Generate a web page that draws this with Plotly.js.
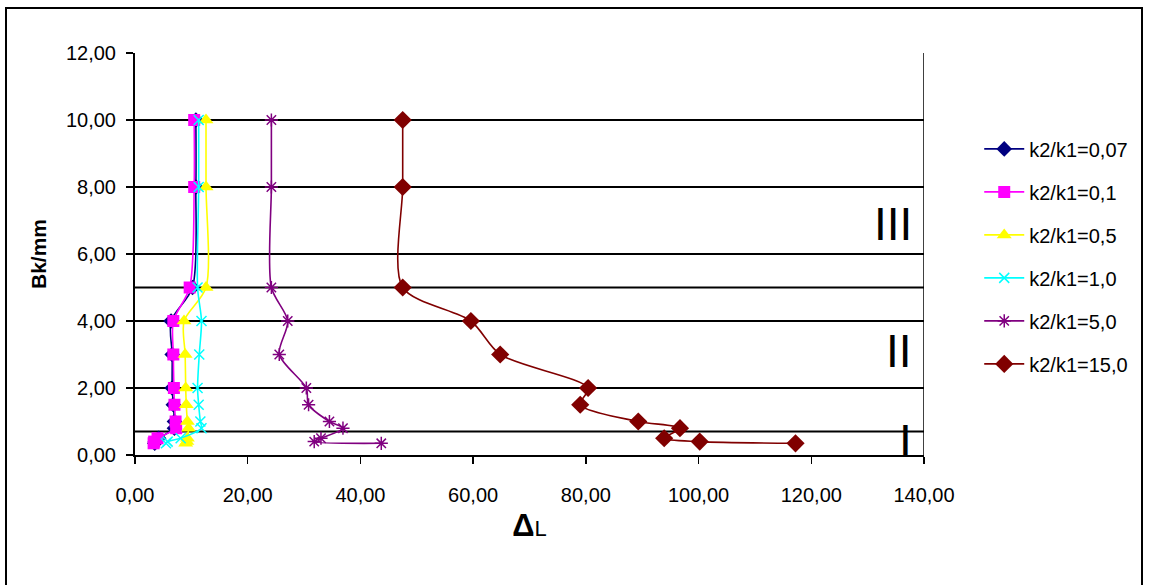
<!DOCTYPE html>
<html>
<head>
<meta charset="utf-8">
<script src="https://cdn.plot.ly/plotly-3.0.1.min.js"></script>
<style>
html,body{margin:0;padding:0;background:#fff;overflow:hidden;}
#frame{position:absolute;left:5px;top:7px;width:1138px;height:600px;border:2px solid #000;box-sizing:border-box;}
#chart{position:absolute;left:0;top:0;width:1150px;height:585px;}
</style>
</head>
<body>
<div id="frame"></div>
<div id="chart"></div>
<script>
// Depth values (Bk/mm) shared by all series
const depth = [10, 8, 5, 4, 3, 2, 1.5, 1.0, 0.8, 0.5, 0.4, 0.35];

// ΔL values per series
const dl_007 = [10.8, 10.8, 10.2, 6.4, 6.6, 6.6, 6.8, 7.0, 7.0, 4.2, 3.6, 3.5];
const dl_01  = [10.5, 10.5, 9.7, 6.8, 6.8, 6.9, 7.0, 7.2, 7.3, 4.0, 3.4, 3.3];
const dl_05  = [12.6, 12.6, 12.6, 8.7, 8.9, 9.0, 9.1, 9.3, 9.5, 9.3, 9.2, 9.0];
const dl_10  = [11.3, 11.3, 11.1, 11.8, 11.4, 11.1, 11.3, 11.6, 11.8, 8.1, 5.8, 5.5];
const dl_50  = [24.2, 24.2, 24.2, 27.1, 25.6, 30.4, 30.8, 34.5, 36.9, 33.0, 31.8, 43.7];
const dl_150 = [47.5, 47.5, 47.5, 59.6, 64.8, 80.4, 79.0, 89.3, 96.7, 93.9, 100.2, 117.2];

const seriesNames = ["k2/k1=0,07", "k2/k1=0,1", "k2/k1=0,5", "k2/k1=1,0", "k2/k1=5,0", "k2/k1=15,0"];
const xTicks = [0, 20, 40, 60, 80, 100, 120, 140];
const yTicks = [0, 2, 4, 6, 8, 10, 12];
const zoneLines = [5, 0.7];
const zoneLabels = ["III", "II", "I"];
const zoneLabelY = [6.9, 3.1, 0.42];

const styles = [
  {color:"#000080", symbol:"diamond", size:12, mline:{width:0}},
  {color:"#FF00FF", symbol:"square", size:12, mline:{width:0}},
  {color:"#FFFF00", symbol:"triangle-up", size:13, mline:{width:0}},
  {color:"#00FFFF", symbol:"x-thin-open", size:10, mline:{width:1.5, color:"#00FFFF"}},
  {color:"#800080", symbol:"asterisk-open", size:11, mline:{width:1.5, color:"#800080"}},
  {color:"#800000", symbol:"diamond", size:14, mline:{width:0}}
];
const seriesX = [dl_007, dl_01, dl_05, dl_10, dl_50, dl_150];

const traces = seriesX.map((xs, i) => ({
  type: "scatter",
  mode: "lines+markers",
  x: xs,
  y: depth,
  name: seriesNames[i],
  legendgroup: "g" + i,
  line: {color: styles[i].color, width: 1.6, shape: "spline", smoothing: 0.8},
  marker: {color: styles[i].color, symbol: styles[i].symbol, size: styles[i].size,
           line: Object.assign({color: styles[i].color}, styles[i].mline)}
}));

const shapes = zoneLines.map(v => ({
  type: "line", xref: "x", yref: "y", x0: 0, x1: 140, y0: v, y1: v,
  line: {color: "#000", width: 2}, layer: "below"
}));
shapes.push({type:"line", xref:"x", yref:"y", x0:140, x1:140, y0:0, y1:12, line:{color:"#000", width:1.5}});

const annotations = zoneLabels.map((t, i) => ({
  text: t, xref: "x", yref: "y", x: 138.2, y: zoneLabelY[i],
  xanchor: "right", yanchor: "middle", showarrow: false,
  font: {family: "Liberation Sans, Arial, sans-serif", size: 46, color: "#000"}
}));

const layout = {
  width: 1150, height: 585,
  paper_bgcolor: "rgba(0,0,0,0)", plot_bgcolor: "rgba(0,0,0,0)",
  margin: {l: 135, r: 226, t: 53, b: 130},
  separators: ",.",
  font: {family: "Liberation Sans, Arial, sans-serif", size: 20, color: "#000"},
  xaxis: {
    range: [0, 140], tickvals: xTicks, tickformat: ".2f",
    showgrid: false, zeroline: false, showline: true, linecolor: "#000", linewidth: 2,
    ticks: "outside", ticklen: 7, tickwidth: 1.5, tickcolor: "#000",
    ticklabelstandoff: 14,
    title: {text: "<b><span style='font-size:31px'>Δ</span></b><span style='font-size:22px'>L</span>", standoff: 14}
  },
  yaxis: {
    range: [0, 12], tickvals: yTicks, tickformat: ".2f",
    showgrid: true, gridcolor: "#000", gridwidth: 2,
    zeroline: false, showline: true, linecolor: "#000", linewidth: 2,
    ticks: "outside", ticklen: 7, tickwidth: 1.5, tickcolor: "#000",
    ticklabelstandoff: 6,
    title: {text: "<b>Bk/mm</b>", font: {size: 21}, standoff: 14}
  },
  legend: {
    x: 1.07, xanchor: "left", y: 0.81, yanchor: "top",
    font: {size: 20, color: "#000"}, traceorder: "grouped", tracegroupgap: 14,
    bgcolor: "rgba(0,0,0,0)", itemwidth: 40
  },
  shapes: shapes,
  annotations: annotations,
  showlegend: true
};

Plotly.newPlot("chart", traces, layout, {displayModeBar: false, staticPlot: true});
</script>
</body>
</html>
